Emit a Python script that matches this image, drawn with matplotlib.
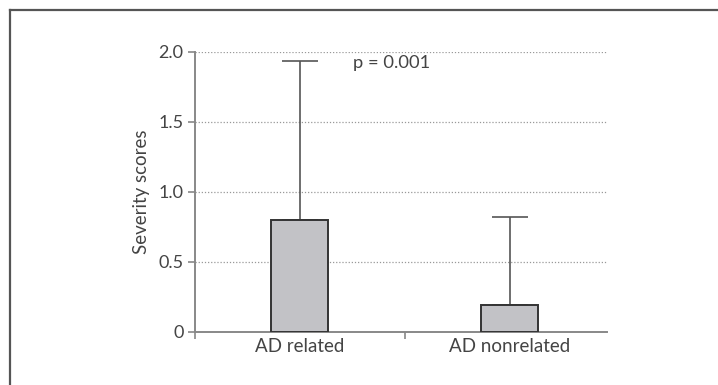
import matplotlib
matplotlib.use("Agg")
import matplotlib.pyplot as plt
from matplotlib.lines import Line2D

categories = ["AD related", "AD nonrelated"]
means = [0.80, 0.19]
upper_err = [1.13, 0.63]  # mean + err = 1.93, 0.82
yticks = [0, 0.5, 1.0, 1.5, 2.0]
yticklabels = ["0", "0.5", "1.0", "1.5", "2.0"]
annotation = "p = 0.001"

plt.rcParams['font.family'] = ['Lato', 'DejaVu Sans']
W, H = 718, 385
fig = plt.figure(figsize=(W / 100, H / 100), dpi=100)

# outer frame (top and left only visible)
fig.add_artist(Line2D([10 / W, 1.0], [1 - 10 / H, 1 - 10 / H], color="#555555", lw=1.6))
fig.add_artist(Line2D([10 / W, 10 / W], [1 - 10 / H, 0.0], color="#555555", lw=1.6))

left, right = 194.5 / W, 607 / W
bottom, top = 1 - 332 / H, 1 - 51.5 / H
ax = fig.add_axes([left, bottom, right - left, top - bottom])

x = [0, 1]
ax.bar(x, means, width=0.275, color="#c2c2c6", edgecolor="#333333", linewidth=1.4, zorder=3)
ax.errorbar(x, means, yerr=[[0, 0], upper_err], fmt="none", ecolor="#555555",
            elinewidth=1.2, capsize=13, capthick=1.2, zorder=2)

ax.set_xlim(-0.5, 1.464)
ax.set_ylim(0, 2.0)
ax.set_yticks(yticks)
ax.set_yticklabels(yticklabels)
ax.set_xticks(x)
ax.set_xticklabels(categories)
ax.set_xticks([-0.5, 0.5], minor=True)

for yv in yticks[1:]:
    ax.axhline(yv, color="#999999", lw=0.9, ls=(0, (1, 1.5)), zorder=1)

for s in ["top", "right"]:
    ax.spines[s].set_visible(False)
for s in ["left", "bottom"]:
    ax.spines[s].set_color("#888888")
    ax.spines[s].set_linewidth(1.4)

ax.tick_params(axis="y", direction="out", length=5, width=1.2, color="#888888",
               labelsize=13, labelcolor="#444444", pad=3)
ax.tick_params(axis="x", which="major", length=0, labelsize=13.5, labelcolor="#444444", pad=4)
ax.tick_params(axis="x", which="minor", direction="out", length=5, width=1.2, color="#888888")

ax.set_ylabel("Severity scores", fontsize=13.5, color="#444444", labelpad=6)
ax.text(0.436, 1.92, annotation, fontsize=13.2, color="#444444", ha="center", va="center")

fig.savefig("out.png", dpi=100)
